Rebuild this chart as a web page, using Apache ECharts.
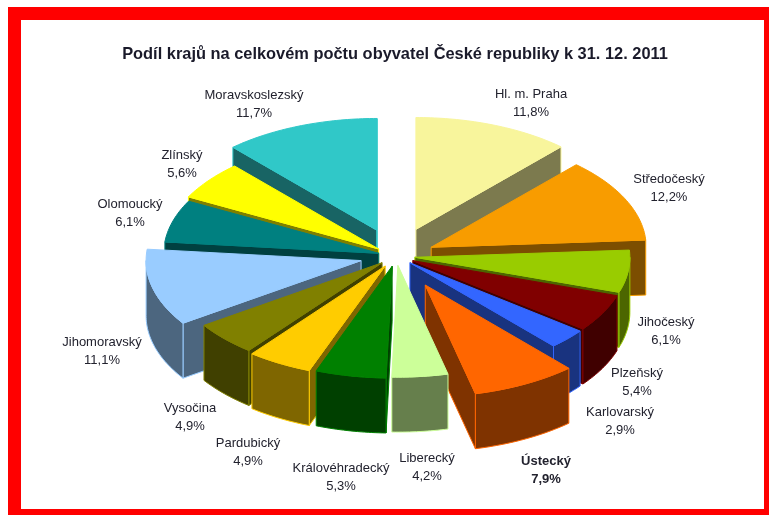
<!DOCTYPE html>
<html>
<head>
<meta charset="utf-8">
<style>
  html, body { margin: 0; padding: 0; background: #fff; }
  #chart { width: 769px; height: 515px; }
</style>
<script src="https://cdn.jsdelivr.net/npm/echarts@6/dist/echarts.min.js"></script>
</head>
<body>
<div id="chart"></div>
<script>
const regions = ['Hl. m. Praha', 'Středočeský', 'Jihočeský', 'Plzeňský', 'Karlovarský', 'Ústecký', 'Liberecký',
  'Královéhradecký', 'Pardubický', 'Vysočina', 'Jihomoravský', 'Olomoucký', 'Zlínský', 'Moravskoslezský']
const shares = [11.8, 12.2, 6.1, 5.4, 2.9, 7.9, 4.2, 5.3, 4.9, 4.9, 11.1, 6.1, 5.6, 11.7]
const titleText = 'Podíl krajů na celkovém počtu obyvatel České republiky k 31. 12. 2011'

// slice look, same order as regions
const colors = ['#F8F59C', '#F89C00', '#99CC00', '#800000', '#3366FF', '#FF6600', '#CCFF99',
  '#008000', '#FFCC00', '#808000', '#99CCFF', '#008080', '#FFFF00', '#30C8C8']
const explode = [55, 39, 19, 19, 19, 63, 18, 20, 22, 19, 36, 18, 22, 53]
const labelAt = [[531, 103], [669, 188], [666, 331], [637, 382], [620, 421], [546, 470], [427, 467],
  [341, 477], [248, 452], [190, 417], [102, 351], [130, 213], [182, 164], [254, 104]]

const CX = 396
const CY = 256
const R = 215
const SQUASH = 0.52
const DEPTH = 55
const total = shares.reduce((a, b) => a + b, 0)

const slices = []
let acc = 0
shares.forEach(v => {
  const start = acc
  acc += v / total * 360
  slices.push({ start, end: acc, mid: (start + acc) / 2 })
})

const rad = d => d * Math.PI / 180
const drawOrder = shares.map((v, i) => i).sort((a, b) => Math.cos(rad(slices[b].mid)) - Math.cos(rad(slices[a].mid)))

function darker(hex) {
  const n = parseInt(hex.slice(1), 16)
  const c = s => ((n >> s) & 255) >> 1
  return `rgb(${c(16)},${c(8)},${c(0)})`
}

function renderSlice(params, api) {
  const i = api.value(0)
  const s = slices[i]
  const ox = CX + explode[i] * Math.sin(rad(s.mid))
  const oy = CY - SQUASH * explode[i] * Math.cos(rad(s.mid))
  const pt = (deg, r, drop) => [ox + r * Math.sin(rad(deg)), oy - SQUASH * r * Math.cos(rad(deg)) + drop]
  const arc = (from, to, drop) => {
    const pts = []
    const n = Math.max(1, Math.ceil(Math.abs(to - from)))
    for (let k = 0; k <= n; k++) pts.push(pt(from + (to - from) * k / n, R, drop))
    return pts
  }
  const z2 = params.dataIndex * 4
  const poly = (points, fill, z) => ({
    type: 'polygon',
    z2: z2 + z,
    shape: { points },
    style: { fill, stroke: colors[i], lineWidth: 1 }
  })
  const wall = darker(colors[i])
  const children = []
  const cut = deg => poly([pt(deg, 0, 0), pt(deg, R, 0), pt(deg, R, DEPTH), pt(deg, 0, DEPTH)], wall, 0)
  if (Math.sin(rad(s.start)) < 0) children.push(cut(s.start))
  if (Math.sin(rad(s.end)) > 0) children.push(cut(s.end))
  const from = Math.max(s.start, 90)
  const to = Math.min(s.end, 270)
  if (to > from) children.push(poly(arc(from, to, 0).concat(arc(to, from, DEPTH)), wall, 1))
  children.push(poly([pt(s.mid, 0, 0)].concat(arc(s.start, s.end, 0)), colors[i], 2))
  children.push({
    type: 'text',
    z2: 500,
    style: {
      x: labelAt[i][0],
      y: labelAt[i][1],
      text: regions[i] + '\n' + shares[i].toFixed(1).replace('.', ',') + '%',
      align: 'center',
      verticalAlign: 'middle',
      fontFamily: 'Liberation Sans',
      fontSize: 13,
      fontWeight: regions[i] === 'Ústecký' ? 'bold' : 'normal',
      lineHeight: 18,
      fill: '#22222e'
    }
  })
  return { type: 'group', children }
}

const chart = echarts.init(document.getElementById('chart'))
chart.setOption({
  backgroundColor: '#fff',
  animation: false,
  title: {
    text: titleText,
    left: 390,
    top: 41,
    textAlign: 'center',
    textStyle: { fontFamily: 'Liberation Sans', fontSize: 16.4, fontWeight: 'bold', color: '#1a1a2a' }
  },
  graphic: [
    { type: 'rect', silent: true, shape: { x: 8, y: 7, width: 761, height: 13 }, style: { fill: '#f00' } },
    { type: 'rect', silent: true, shape: { x: 8, y: 509, width: 761, height: 6 }, style: { fill: '#f00' } },
    { type: 'rect', silent: true, shape: { x: 8, y: 7, width: 13, height: 508 }, style: { fill: '#f00' } },
    { type: 'rect', silent: true, shape: { x: 764, y: 7, width: 5, height: 508 }, style: { fill: '#f00' } }
  ],
  series: [
    {
      type: 'custom',
      coordinateSystem: 'none',
      silent: true,
      renderItem: renderSlice,
      data: drawOrder.map(i => [i, shares[i]])
    }
  ]
})
</script>
</body>
</html>
